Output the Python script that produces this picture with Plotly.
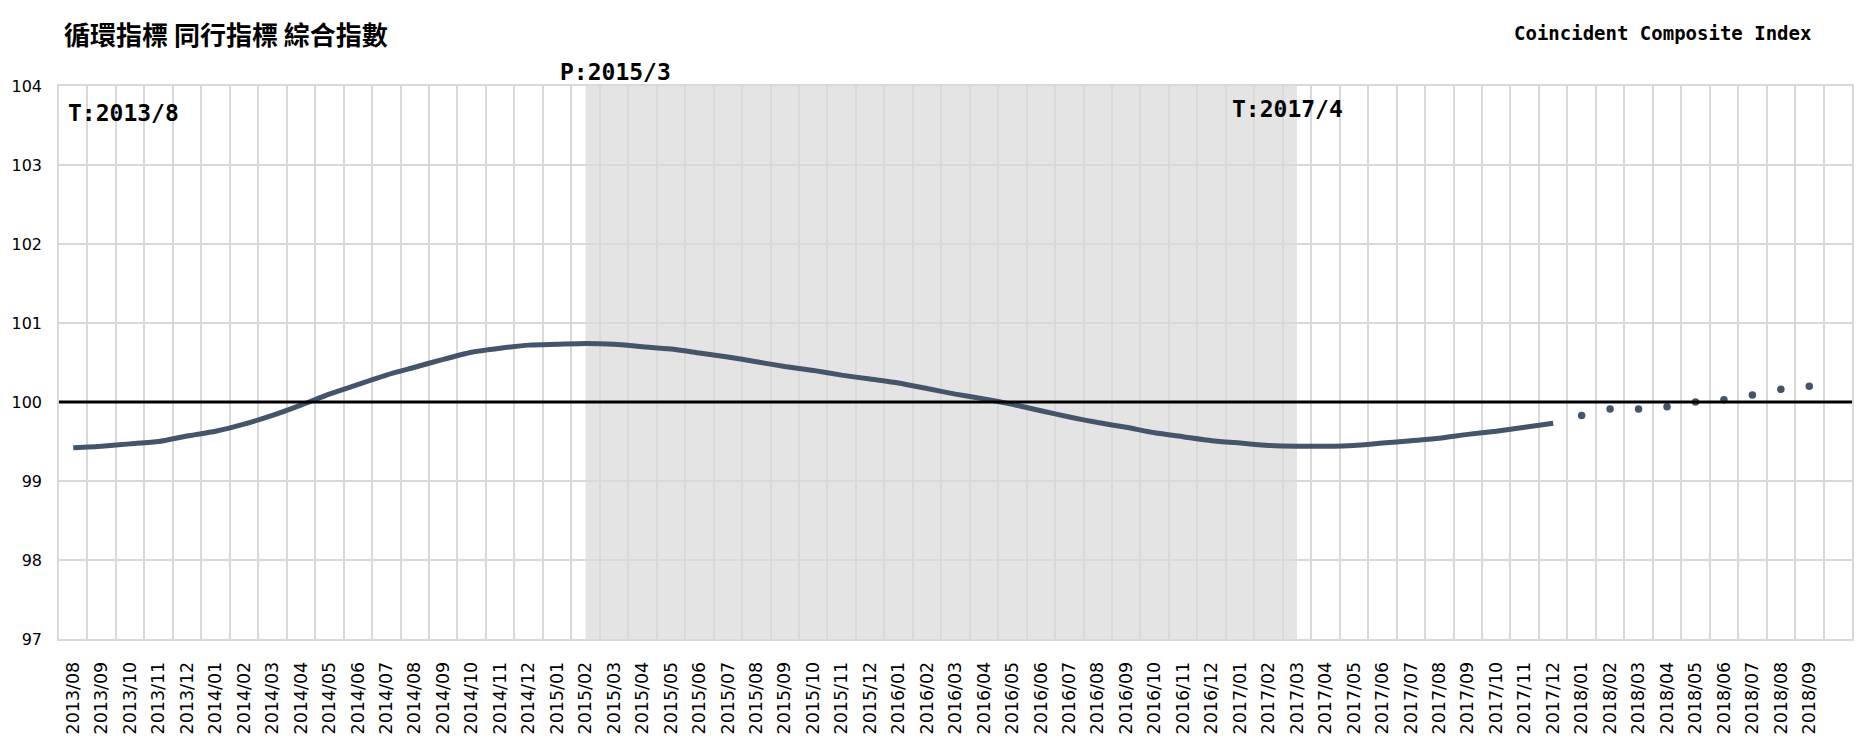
import plotly.graph_objects as go

categories = [
    "2013/08", "2013/09", "2013/10", "2013/11", "2013/12",
    "2014/01", "2014/02", "2014/03", "2014/04", "2014/05", "2014/06",
    "2014/07", "2014/08", "2014/09", "2014/10", "2014/11", "2014/12",
    "2015/01", "2015/02", "2015/03", "2015/04", "2015/05", "2015/06",
    "2015/07", "2015/08", "2015/09", "2015/10", "2015/11", "2015/12",
    "2016/01", "2016/02", "2016/03", "2016/04", "2016/05", "2016/06",
    "2016/07", "2016/08", "2016/09", "2016/10", "2016/11", "2016/12",
    "2017/01", "2017/02", "2017/03", "2017/04", "2017/05", "2017/06",
    "2017/07", "2017/08", "2017/09", "2017/10", "2017/11", "2017/12",
    "2018/01", "2018/02", "2018/03", "2018/04", "2018/05", "2018/06",
    "2018/07", "2018/08", "2018/09",
]

# Actual index (smoothed line), 2013/08 .. 2017/12
index_actual = [
    99.42, 99.44, 99.47, 99.50, 99.57,
    99.63, 99.72, 99.83, 99.96, 100.10, 100.22,
    100.34, 100.44, 100.54, 100.63, 100.68, 100.72,
    100.73, 100.74, 100.73, 100.70, 100.67, 100.62,
    100.57, 100.51, 100.45, 100.40, 100.34, 100.29,
    100.24, 100.17, 100.10, 100.04, 99.97, 99.89,
    99.81, 99.74, 99.68, 99.61, 99.56, 99.51,
    99.48, 99.45, 99.44, 99.44, 99.45, 99.48,
    99.51, 99.54, 99.59, 99.63, 99.68, 99.73,
]
# Preliminary points (dots), 2018/01 .. 2018/09
index_prelim = [99.83, 99.91, 99.91, 99.94, 100.00, 100.03, 100.09, 100.16, 100.20]

shade_start = "2015/02"
shade_end = "2017/03"
baseline = 100

n_act = len(index_actual)
x_act = categories[:n_act]
x_pre = categories[n_act:n_act + len(index_prelim)]

LINE_COLOR = "#44546A"
GRID = "#D9D9D9"

fig = go.Figure()
# 100 baseline on an overlaid invisible 0..1 axis so it spans the full width
fig.add_trace(go.Scatter(
    x=[0, 1], y=[baseline, baseline], mode="lines", xaxis="x2", yaxis="y",
    line=dict(color="black", width=3), showlegend=False, hoverinfo="skip",
))
fig.add_trace(go.Scatter(
    x=x_act, y=index_actual, mode="lines",
    line=dict(color=LINE_COLOR, width=5, shape="spline", smoothing=0.6),
    showlegend=False, hoverinfo="x+y",
))
fig.add_trace(go.Scatter(
    x=x_pre, y=index_prelim, mode="markers",
    marker=dict(color=LINE_COLOR, size=7.5),
    showlegend=False, hoverinfo="x+y",
))

# recession shading
fig.add_shape(type="rect", xref="x", yref="paper",
              x0=categories.index(shade_start), x1=categories.index(shade_end),
              y0=0, y1=1, fillcolor="#E4E4E4", line=dict(width=0), layer="below")

mono = "DejaVu Sans Mono"
ann_font = dict(family=mono, size=23, color="black", weight="bold")
fig.add_annotation(x=-0.25, y=103.66, xref="x", yref="y", text="T:2013/8",
                   showarrow=False, xanchor="left", yanchor="middle", font=ann_font)
fig.add_annotation(x=19.04, y=1.025, xref="x", yref="paper", text="P:2015/3",
                   showarrow=False, xanchor="center", yanchor="middle", font=ann_font)
fig.add_annotation(x=42.65, y=103.71, xref="x", yref="y", text="T:2017/4",
                   showarrow=False, xanchor="center", yanchor="middle", font=ann_font)

# titles
fig.add_annotation(x=0.0, y=1.0958, xref="paper", yref="paper", xshift=3,
                   text="循環指標 同行指標 綜合指數", showarrow=False,
                   xanchor="left", yanchor="middle",
                   font=dict(family="Noto Sans CJK TC", size=26, color="black", weight="bold"))
fig.add_annotation(x=0.978, y=1.0958, xref="paper", yref="paper",
                   text="Coincident Composite Index", showarrow=False,
                   xanchor="right", yanchor="middle",
                   font=dict(family=mono, size=19, color="black", weight="bold"))

fig.update_xaxes(
    type="category", categoryorder="array", categoryarray=categories,
    range=[-0.5, len(categories) + 0.5], automargin=False,
    tickson="boundaries", showgrid=True, gridcolor=GRID, gridwidth=1.5,
    tickangle=-90, ticks="", ticklabelstandoff=14,
    tickfont=dict(family="DejaVu Sans", size=17.5, color="black"),
    showline=True, linecolor=GRID, linewidth=1.5, mirror=True,
    zeroline=False,
)
fig.update_yaxes(
    range=[97, 104], dtick=1, showgrid=True, gridcolor=GRID, gridwidth=1.5,
    ticks="", ticklabelstandoff=12, automargin=False,
    tickfont=dict(family="DejaVu Sans", size=16, color="black"),
    showline=True, linecolor=GRID, linewidth=1.5, mirror=True,
    zeroline=False,
)

fig.update_layout(
    xaxis2=dict(overlaying="x", range=[0, 1], visible=False, fixedrange=True),
    width=1867, height=745,
    margin=dict(l=51, r=23, t=78, b=114, autoexpand=False),
    plot_bgcolor="white", paper_bgcolor="white",
    showlegend=False,
)

fig.write_html("out.html")
